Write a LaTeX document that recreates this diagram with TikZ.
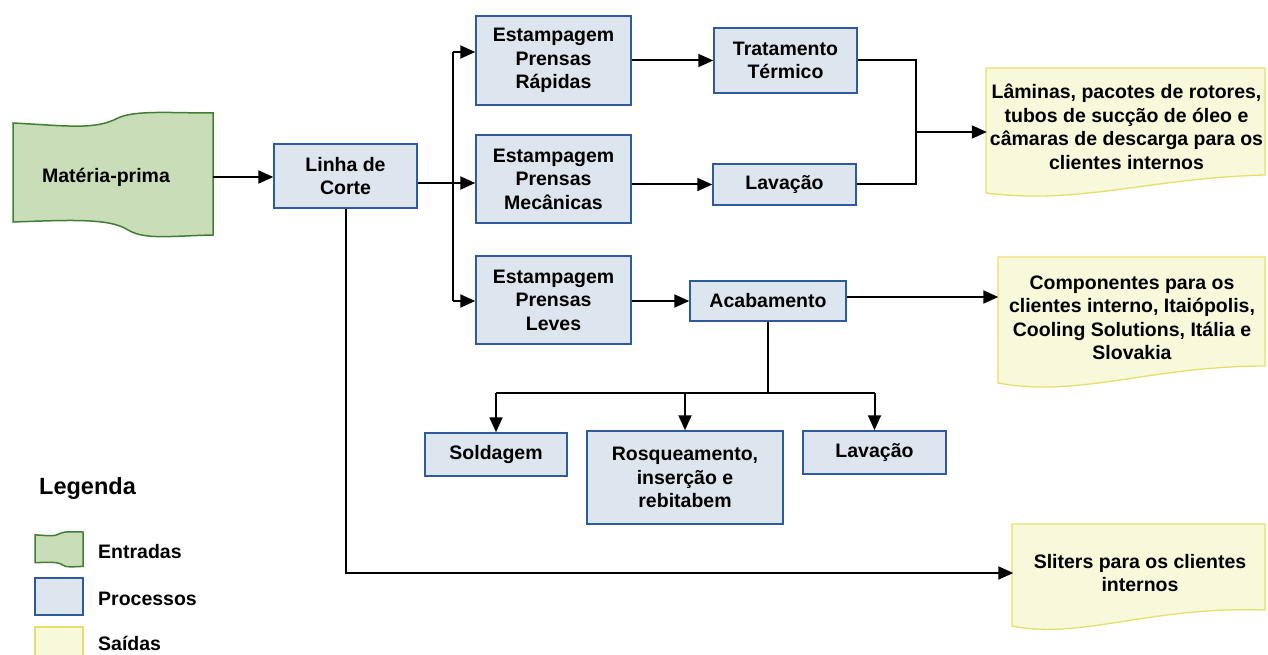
\documentclass[tikz,border=0pt]{standalone}
\usepackage{fontspec}
\setmainfont{Liberation Sans}
\usetikzlibrary{arrows.meta}
\definecolor{procfill}{HTML}{DDE6EE}
\definecolor{procdraw}{HTML}{2E5A9E}
\definecolor{outfill}{HTML}{F8F8DA}
\definecolor{outdraw}{HTML}{E6DE6A}
\definecolor{infill}{HTML}{C9DDB9}
\definecolor{indraw}{HTML}{3F7F33}
\tikzset{
  txt/.style={align=center, font=\bfseries\fontsize{19.5}{23.5}\selectfont, inner sep=0pt},
  proc/.style={txt, draw=procdraw, fill=procfill, line width=1.5pt},
  outshape/.style={draw=outdraw, fill=outfill, line width=1.3pt},
  inshape/.style={draw=indraw, fill=infill, line width=1.5pt},
  conn/.style={line width=2pt},
  arr/.style={conn, -{Triangle[length=15pt,width=13pt]}},
}
\begin{document}
\begin{tikzpicture}[x=1pt,y=-1pt]
\useasboundingbox (0,0) rectangle (1268,655);

% input flag
\path[inshape] (13,123) .. controls (70,126) and (95,130) .. (118,118)
  .. controls (135,110) and (170,113) .. (213,113) -- (213,235)
  .. controls (170,236) and (145,240) .. (128,230)
  .. controls (110,218) and (70,220) .. (13,222) -- cycle;
\node[txt, minimum width=214pt, minimum height=100pt] (mp) at (106,177) {Matéria-prima};

% outputs
\path[outshape] (986,68) -- (1265,68) -- (1265,175) .. controls (1150,178) and (1080,205) .. (986,193) -- cycle;
\path[outshape] (998,257) -- (1265,257) -- (1265,366) .. controls (1150,366) and (1080,398) .. (998,383) -- cycle;
\path[outshape] (1012,524) -- (1265,524) -- (1265,610) .. controls (1150,606) and (1080,640) .. (1012,626) -- cycle;
\node[txt, minimum width=279pt, minimum height=100pt] (o1) at (1126.5,127)
  {Lâminas, pacotes de rotores,\\tubos de sucção de óleo e\\câmaras de descarga para os\\clientes internos};
\node[txt, minimum width=267pt, minimum height=100pt] (o2) at (1132,318)
  {Componentes para os\\clientes interno, Itaiópolis,\\Cooling Solutions, Itália e\\Slovakia};
\node[txt, minimum width=253pt, minimum height=80pt] (o3) at (1140,573)
  {Sliters para os clientes\\internos};

% processes
\node[proc, minimum width=143pt, minimum height=64pt] (lc) at (345.5,176) {Linha de\\Corte};
\node[proc, minimum width=155pt, minimum height=89pt] (epr) at (553.5,60.5) {Estampagem\\Prensas\\Rápidas};
\node[proc, minimum width=155pt, minimum height=88pt] (epm) at (553.5,179) {Estampagem\\Prensas\\Mecânicas};
\node[proc, minimum width=155pt, minimum height=88pt] (epl) at (553.5,300) {Estampagem\\Prensas\\Leves};
\node[proc, minimum width=143pt, minimum height=65pt] (tt) at (785.5,60.5) {Tratamento\\Térmico};
\node[proc, minimum width=143pt, minimum height=41pt] (lav1) at (784.5,184.5) {Lavação};
\node[proc, minimum width=156pt, minimum height=40pt] (acab) at (768,301) {Acabamento};
\node[proc, minimum width=142pt, minimum height=43pt] (sold) at (496,454.5) {Soldagem};
\node[proc, minimum width=196pt, minimum height=93pt] (rosq) at (685,477.5) {Rosqueamento,\\inserção e\\rebitabem};
\node[proc, minimum width=143pt, minimum height=43pt] (lav2) at (874.5,452.5) {Lavação};

% connectors
\draw[arr] (mp.east) -- (mp.east -| lc.west);
\coordinate (b1) at (453,52);
\coordinate (b3) at (453,301);
\draw[conn] (b1) -- (b3);
\draw[arr] ([yshift=-7pt]lc.east) -- ([yshift=-7pt]lc.east -| epm.west);
\draw[arr] (b1) -- (b1 -| epr.west);
\draw[arr] (b3) -- (b3 -| epl.west);
\draw[arr] (epr.east) -- (tt.west);
\draw[arr] (epm.east |- lav1) -- (lav1.west);
\coordinate (m) at (916,132);
\draw[conn] (tt.east) -| (m) |- (lav1.east);
\draw[arr] (m) -- (m -| o1.west);
\draw[arr] (epl.east |- acab) -- (acab.west);
\draw[arr] ([yshift=4pt]acab.east) -- ([yshift=4pt]acab.east -| o2.west);
\coordinate (j) at (768,393);
\draw[conn] (acab.south) -- (j);
\draw[conn] (j -| sold) -- (j -| lav2);
\draw[arr] (j -| sold) -- (sold.north);
\draw[arr] (j -| rosq) -- (rosq.north);
\draw[arr] (j -| lav2) -- (lav2.north);
\draw[arr] (lc.south) |- (o3.west);

% legend
\node[txt, anchor=west, font=\bfseries\fontsize{23.5}{27}\selectfont] (leg) at (39,488) {Legenda};
\path[inshape] (35,534.8) .. controls (48.7,535.7) and (54.7,536.8) .. (60.2,533.4)
  .. controls (64.3,531.2) and (72.7,532) .. (83,532) -- (83,566.4)
  .. controls (72.7,566.7) and (66.7,567.8) .. (62.6,565)
  .. controls (58.3,561.6) and (48.7,562.2) .. (35,562.7) -- cycle;
\node[txt, anchor=west] (le) at (98,552) {Entradas};
\path[proc] (35,578) rectangle (83,615);
\node[txt, anchor=west] (lp) at (98,599) {Processos};
\path[fill=outfill] (35,627) rectangle (83,655);
\draw[draw=outdraw, line width=1.3pt] (35,655) -- (35,627) -- (83,627) -- (83,655);
\node[txt, anchor=west] (ls) at (98,643) {Saídas};
\end{tikzpicture}
\end{document}
